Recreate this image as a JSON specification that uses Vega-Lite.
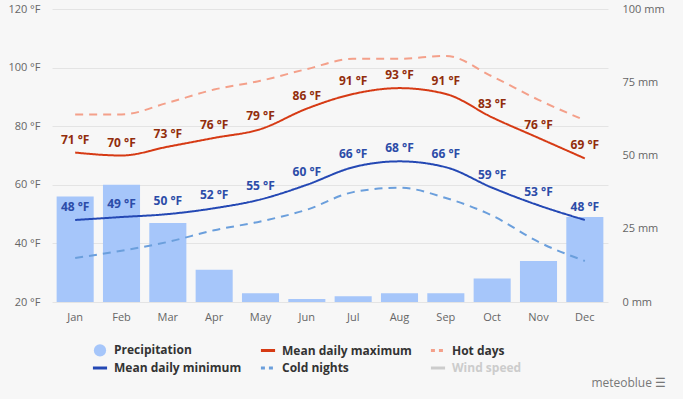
{
  "$schema": "https://vega.github.io/schema/vega-lite/v6.json",
  "width": 556,
  "height": 293,
  "autosize": "none",
  "padding": {"left": 52, "top": 9, "right": 75, "bottom": 97},
  "background": "#f7f7f7",
  "config": {
    "view": {"stroke": null},
    "font": "Open Sans",
    "axis": {"labelColor": "#666666", "labelFontSize": 11, "domain": false, "ticks": false, "title": null, "gridColor": "#e4e4e4"}
  },
  "title": {"text": "meteoblue ☰", "orient": "bottom", "anchor": "end", "fontSize": 12, "fontWeight": "normal", "color": "#777777", "offset": 4, "dx": 2},
  "data": {
    "values": [
      {"month": "Jan", "Precipitation": 36, "Mean daily maximum": 71, "Mean daily minimum": 48, "Hot days": 84, "Cold nights": 35},
      {"month": "Feb", "Precipitation": 40, "Mean daily maximum": 70, "Mean daily minimum": 49, "Hot days": 84, "Cold nights": 37.5},
      {"month": "Mar", "Precipitation": 27, "Mean daily maximum": 73, "Mean daily minimum": 50, "Hot days": 88, "Cold nights": 40.5},
      {"month": "Apr", "Precipitation": 11, "Mean daily maximum": 76, "Mean daily minimum": 52, "Hot days": 92.5, "Cold nights": 44.5},
      {"month": "May", "Precipitation": 3, "Mean daily maximum": 79, "Mean daily minimum": 55, "Hot days": 95.5, "Cold nights": 47.5},
      {"month": "Jun", "Precipitation": 1, "Mean daily maximum": 86, "Mean daily minimum": 60, "Hot days": 99.5, "Cold nights": 51.5},
      {"month": "Jul", "Precipitation": 2, "Mean daily maximum": 91, "Mean daily minimum": 66, "Hot days": 103, "Cold nights": 57.5},
      {"month": "Aug", "Precipitation": 3, "Mean daily maximum": 93, "Mean daily minimum": 68, "Hot days": 103, "Cold nights": 59},
      {"month": "Sep", "Precipitation": 3, "Mean daily maximum": 91, "Mean daily minimum": 66, "Hot days": 104, "Cold nights": 55.5},
      {"month": "Oct", "Precipitation": 8, "Mean daily maximum": 83, "Mean daily minimum": 59, "Hot days": 97, "Cold nights": 49.5},
      {"month": "Nov", "Precipitation": 14, "Mean daily maximum": 76, "Mean daily minimum": 53, "Hot days": 89, "Cold nights": 40.5},
      {"month": "Dec", "Precipitation": 29, "Mean daily maximum": 69, "Mean daily minimum": 48, "Hot days": 82, "Cold nights": 34}
    ]
  },
  "encoding": {
    "x": {
      "field": "month", "type": "nominal",
      "sort": ["Jan","Feb","Mar","Apr","May","Jun","Jul","Aug","Sep","Oct","Nov","Dec"],
      "scale": {"paddingInner": 0.2, "paddingOuter": 0.1},
      "axis": {"labelAngle": 0, "labelPadding": 9, "grid": false}
    }
  },
  "layer": [
    {
      "mark": {"type": "bar", "color": "#a6c6fa"},
      "encoding": {
        "y": {
          "field": "Precipitation", "type": "quantitative",
          "scale": {"domain": [0, 100]},
          "axis": {"orient": "right", "grid": false, "values": [0, 25, 50, 75, 100], "labelExpr": "datum.value + ' mm'", "labelPadding": 14}
        }
      }
    },
    {
      "layer": [
        {
          "transform": [{"fold": ["Mean daily maximum", "Hot days", "Mean daily minimum", "Cold nights"], "as": ["series", "temp"]}],
          "mark": {"type": "line", "interpolate": "monotone", "strokeWidth": 2},
          "encoding": {
            "y": {
              "field": "temp", "type": "quantitative",
              "scale": {"domain": [20, 120]},
              "axis": {"orient": "left", "grid": true, "values": [20, 40, 60, 80, 100, 120], "labelExpr": "datum.value + ' °F'", "labelPadding": 12}
            },
            "color": {
              "field": "series", "type": "nominal",
              "scale": {
                "domain": ["Precipitation", "Mean daily minimum", "Mean daily maximum", "Cold nights", "Hot days", "Wind speed"],
                "range": ["#a6c6fa", "#2448b4", "#d63a14", "#6b9fdc", "#f4a08a", "#cccccc"]
              },
              "legend": {
                "title": null,
                "orient": "none",
                "legendX": 42,
                "legendY": 335,
                "columns": 3,
                "columnPadding": 12,
                "rowPadding": 5,
                "labelFontSize": 12,
                "labelFontWeight": "bold",
                "labelColor": "#333333",
                "labelOffset": 8,
                "encode": {
                  "symbols": {
                    "update": {
                      "shape": {"signal": "datum.label === 'Precipitation' ? 'circle' : 'M-1,0H1'"},
                      "fill": {"signal": "datum.label === 'Precipitation' ? '#a6c6fa' : 'transparent'"},
                      "stroke": {"scale": "color", "field": "value"},
                      "strokeDash": {"signal": "(datum.label === 'Hot days' || datum.label === 'Cold nights') ? [4, 4] : [1, 0]"},
                      "strokeWidth": {"signal": "datum.label === 'Precipitation' ? 0 : 3"},
                      "size": {"signal": "datum.label === 'Precipitation' ? 150 : 200"},
                      "opacity": {"value": 1}
                    }
                  },
                  "labels": {
                    "update": {
                      "fill": {"signal": "datum.label === 'Wind speed' ? '#cccccc' : '#333333'"}
                    }
                  }
                }
              }
            },
            "strokeDash": {
              "field": "series", "type": "nominal",
              "scale": {"domain": ["Mean daily maximum", "Hot days", "Mean daily minimum", "Cold nights"], "range": [[1, 0], [8, 6], [1, 0], [8, 6]]},
              "legend": null
            }
          }
        },
        {
          "mark": {"type": "text", "dy": -13, "fontWeight": "bold", "fontSize": 12, "color": "#922d0c", "text": {"expr": "datum['Mean daily maximum'] + ' °F'"}},
          "encoding": {"y": {"field": "Mean daily maximum", "type": "quantitative"}}
        },
        {
          "mark": {"type": "text", "dy": -13, "fontWeight": "bold", "fontSize": 12, "color": "#2c4ca8", "text": {"expr": "datum['Mean daily minimum'] + ' °F'"}},
          "encoding": {"y": {"field": "Mean daily minimum", "type": "quantitative"}}
        }
      ]
    }
  ],
  "resolve": {"scale": {"y": "independent"}}
}
